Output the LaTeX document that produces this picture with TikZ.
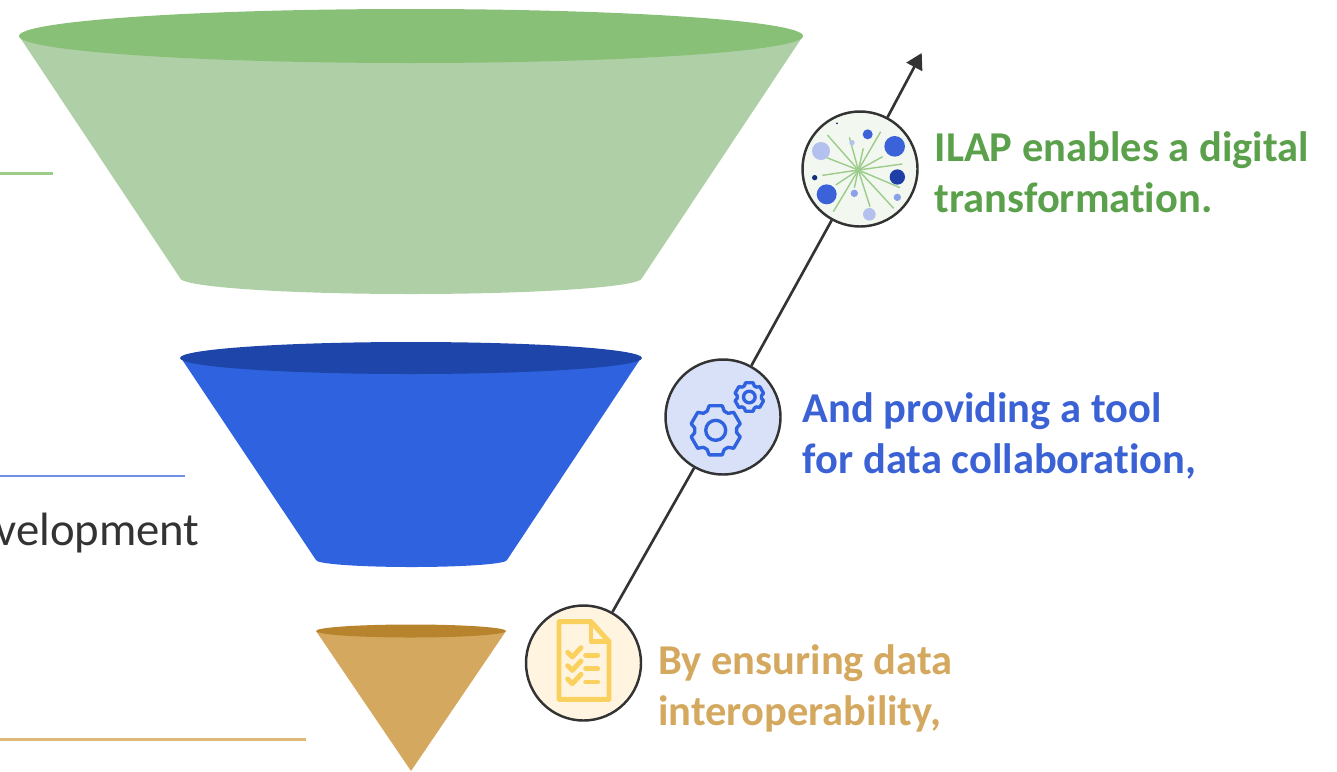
\documentclass[tikz,border=0pt]{standalone}
\usepackage{fontspec}
\setmainfont[Ligatures=CommonOff]{Carlito}
\usetikzlibrary{arrows.meta}
\definecolor{leafbody}{HTML}{AFD0A6}
\definecolor{leaftop}{HTML}{88C078}
\definecolor{leafline}{HTML}{9CCB8B}
\definecolor{leaftext}{HTML}{5BA14B}
\definecolor{leafdisc}{HTML}{F2F8F0}
\definecolor{seabody}{HTML}{2F62DE}
\definecolor{seatop}{HTML}{1D45AA}
\definecolor{sealine}{HTML}{7090E5}
\definecolor{seatext}{HTML}{3B62D5}
\definecolor{seadisc}{HTML}{D9E1F8}
\definecolor{sandbody}{HTML}{D4A95F}
\definecolor{sandtop}{HTML}{B8832D}
\definecolor{sandline}{HTML}{E0B878}
\definecolor{sanddisc}{HTML}{FFF4DF}
\definecolor{docline}{HTML}{FAD15E}
\definecolor{dotlight}{HTML}{B4C1EF}
\definecolor{dotmid}{HTML}{3B62D8}
\definecolor{dotsoft}{HTML}{8AA0E8}
\definecolor{dotdark}{HTML}{1F3FA8}
\definecolor{dotnavy}{HTML}{14307F}
\definecolor{darkline}{HTML}{333333}
\tikzset{>={Triangle[length=9pt,width=10pt]}}
\tikzset{disc/.style={draw=darkline, circle, line width=1.4pt, minimum size=2.3cm, inner sep=0pt}}
\tikzset{caption/.style={anchor=west, align=left, inner sep=0pt, font=\fontsize{24.2pt}{29pt}\selectfont\bfseries}}
\tikzset{gearpic/.pic={
    \draw[seabody, line width=1.9pt, line join=round]
      (30-24:21) \foreach \a in {30,90,150,210,270,330} { -- (\a-24:21) -- (\a-15:25.4) -- (\a+15:25.4) -- (\a+24:21) } -- cycle;
    \draw[seabody, line width=1.9pt] (0,0) circle (10);
  }}
\begin{document}
\begin{tikzpicture}[x=0.02cm, y=-0.02cm]
  \useasboundingbox (0,0) rectangle (1337,771);
  % rules
  \draw[leafline, line width=1.2pt] (0,173.5) -- (53,173.5);
  \draw[sealine, line width=1.2pt] (0,476) -- (185,476);
  \draw[sandline, line width=1.2pt] (0,739.5) -- (306,739.5);
  \node[anchor=base east, inner sep=0pt, text=darkline, font=\fontsize{26.6pt}{29pt}\selectfont] (devtext) at (200,545) {velopment};
  % funnels
  \fill[leafbody] (411,278) ellipse [x radius=231, y radius=16];
  \fill[leafbody] (19,36) -- (180,278) -- (642,278) -- (803,36) -- cycle;
  \fill[leaftop] (411,36) ellipse [x radius=392, y radius=27];
  \fill[seabody] (411.5,560) ellipse [x radius=95.5, y radius=7];
  \fill[seabody] (181,358) -- (316,560) -- (507,560) -- (641,358) -- cycle;
  \fill[seatop] (411,358) ellipse [x radius=231, y radius=16];
  \fill[sandbody] (316,631) -- (411,771) -- (506,631) -- cycle;
  \fill[sandtop] (411,631) ellipse [x radius=95, y radius=6.5];
  % arrow and discs
  \node[disc, fill=sanddisc] (doc) at (583.5,663) {};
  \node[disc, fill=seadisc] (gear) at (723,417) {};
  \node[disc, fill=leafdisc] (burst) at (860,169) {};
  \coordinate (tip) at (921.7,53);
  \draw[darkline, line width=1.5pt] (doc) -- (gear);
  \draw[darkline, line width=1.5pt] (gear) -- (burst);
  \draw[darkline, line width=1.5pt, ->] (burst) -- (tip);
  % burst icon
  \begin{scope}[shift={(790,40)}, scale=1/3]
    \foreach \px/\py in {112/285,178/292,220/325,272/275,278/350,337/372,330/443,311/505,240/500,193/443,130/515,137/435,97/406,110/353}
      \draw[leafline, line width=0.8pt] (205,390) -- (\px,\py);
    \foreach \px/\py/\rad/\col in {233/283/15/dotmid,314/319/31/dotmid,93/333/27/dotlight,186/308/8/dotlight,141/250/3/dotnavy,74/413/8/dotnavy,322/411/23/dotdark,322/472/11/dotsoft,193/460/11/dotsoft,110/463/30/dotmid,238/523/19/dotlight}
      \fill[\col] (\px,\py) circle (\rad);
  \end{scope}
  % gears
  \pic at (715.7,430.3) {gearpic};
  \pic[scale=0.58] at (749.3,397) {gearpic};
  % checklist
  \begin{scope}[shift={(515,595)}, scale=1/3, docline, line width=2.8pt, line join=round, line cap=round]
    \draw (132,80) -- (228,80) -- (282,140) -- (282,313) -- (132,313) -- cycle;
    \draw (228,80) -- (228,140) -- (282,140);
    \foreach \py in {175,215,255} {
      \draw (158,\py-3) -- (172,\py+11) -- (198,\py-17);
      \draw (212,\py+6) -- (248,\py+6);
    }
  \end{scope}
  % captions
  \node[caption, text=leaftext] (ilaptext) at (934.5,172) {ILAP enables a digital\\transformation.};
  \node[caption, text=seatext] (tooltext) at (802.5,435.5) {And providing a tool\\for data collaboration,};
  \node[caption, text=sandbody] (sandtext) at (658,688) {By ensuring data\\interoperability,};
\end{tikzpicture}
\end{document}
